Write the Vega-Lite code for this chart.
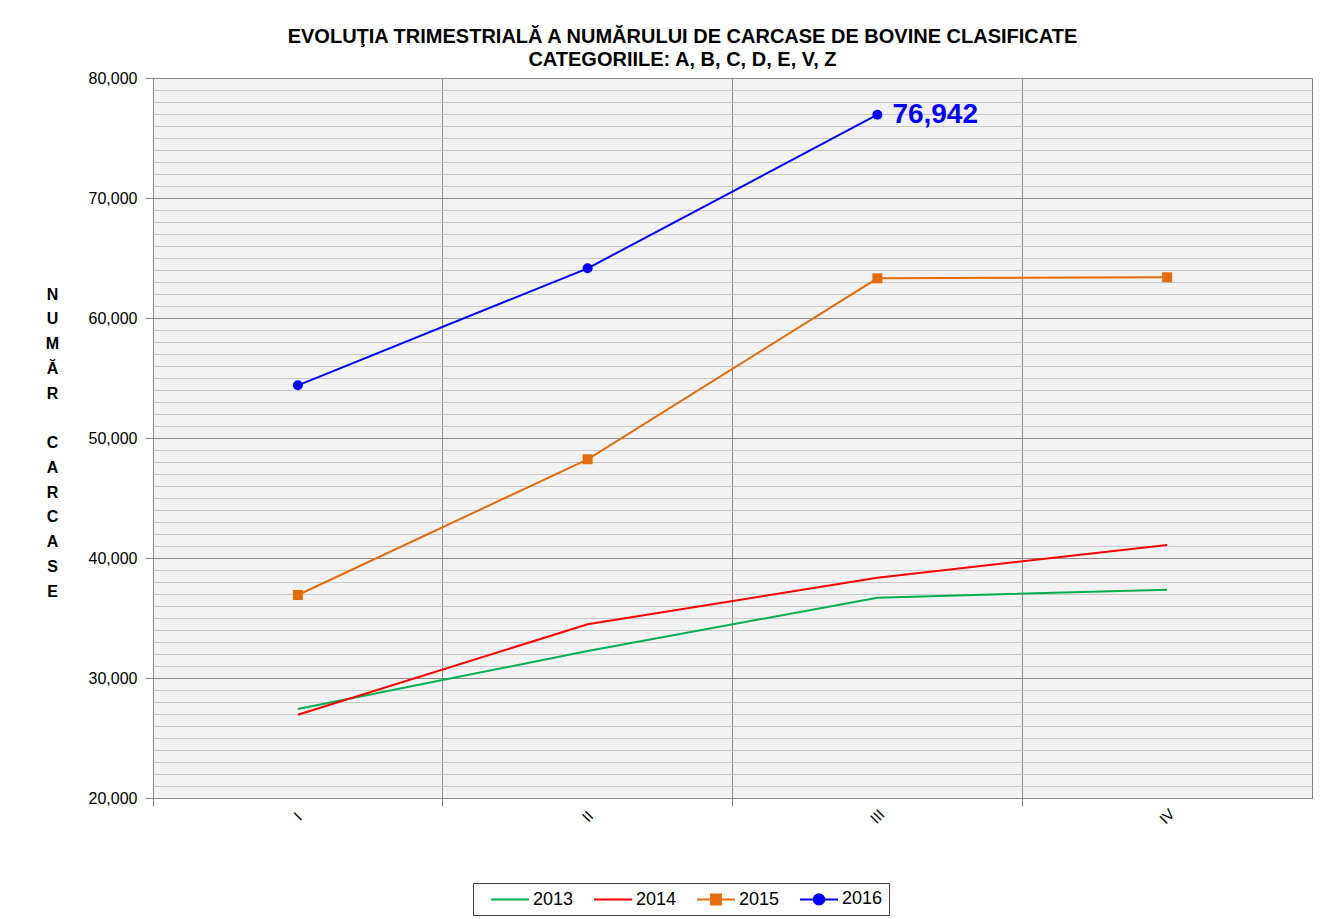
{
  "$schema": "https://vega.github.io/schema/vega-lite/v6.json",
  "width": 1159,
  "height": 720,
  "autosize": {"type": "none"},
  "padding": {"left": 153, "top": 78, "right": 30, "bottom": 121},
  "background": "white",
  "title": {
    "text": ["EVOLUŢIA TRIMESTRIALĂ A NUMĂRULUI DE  CARCASE DE BOVINE CLASIFICATE", "CATEGORIILE: A, B, C, D, E, V, Z"],
    "anchor": "middle",
    "frame": "group",
    "dx": -50,
    "offset": 0,
    "fontSize": 20,
    "fontWeight": "bold",
    "font": "Liberation Sans",
    "lineHeight": 23,
    "color": "black"
  },
  "config": {
    "view": {"stroke": "#808080", "fill": "#f2f2f2"},
    "font": "Liberation Sans"
  },
  "data": {
    "values": [
      {"quarter": "I", "year": "2013", "value": 27417},
      {"quarter": "II", "year": "2013", "value": 32250},
      {"quarter": "III", "year": "2013", "value": 36692},
      {"quarter": "IV", "year": "2013", "value": 37358},
      {"quarter": "I", "year": "2014", "value": 26942},
      {"quarter": "II", "year": "2014", "value": 34475},
      {"quarter": "III", "year": "2014", "value": 38358},
      {"quarter": "IV", "year": "2014", "value": 41083},
      {"quarter": "I", "year": "2015", "value": 36917},
      {"quarter": "II", "year": "2015", "value": 48225},
      {"quarter": "III", "year": "2015", "value": 63308},
      {"quarter": "IV", "year": "2015", "value": 63392},
      {"quarter": "I", "year": "2016", "value": 54390},
      {"quarter": "II", "year": "2016", "value": 64140},
      {"quarter": "III", "year": "2016", "value": 76942}
    ]
  },
  "encoding": {
    "x": {
      "field": "quarter",
      "type": "ordinal",
      "sort": ["I", "II", "III", "IV"],
      "scale": {"type": "band", "paddingInner": 0, "paddingOuter": 0},
      "axis": {
        "title": null,
        "labelAngle": -45,
        "labelAlign": "center",
        "labelBaseline": "middle",
        "labelPadding": 10,
        "labelFontSize": 15,
        "labelColor": "black",
        "labelFont": "Liberation Sans",
        "bandPosition": 0,
        "grid": true,
        "gridColor": "#8c8c8c",
        "ticks": true,
        "tickSize": 8,
        "tickColor": "#808080",
        "domain": false
      }
    },
    "y": {
      "field": "value",
      "type": "quantitative",
      "scale": {"domain": [20000, 80000], "nice": false, "zero": false},
      "axis": {
        "title": ["N", "U", "M", "Ă", "R", "\u200b", "C", "A", "R", "C", "A", "S", "E"],
        "titleAngle": 0,
        "titleX": -101,
        "titleY": 208,
        "titleAlign": "center",
        "titleBaseline": "top",
        "titleLineHeight": 24.75,
        "titleFontSize": 16,
        "titleFontWeight": "bold",
        "titleFont": "Liberation Sans",
        "titleColor": "black",
        "values": [20000, 21000, 22000, 23000, 24000, 25000, 26000, 27000, 28000, 29000, 30000, 31000, 32000, 33000, 34000, 35000, 36000, 37000, 38000, 39000, 40000, 41000, 42000, 43000, 44000, 45000, 46000, 47000, 48000, 49000, 50000, 51000, 52000, 53000, 54000, 55000, 56000, 57000, 58000, 59000, 60000, 61000, 62000, 63000, 64000, 65000, 66000, 67000, 68000, 69000, 70000, 71000, 72000, 73000, 74000, 75000, 76000, 77000, 78000, 79000, 80000],
        "labelExpr": "datum.value % 10000 === 0 ? format(datum.value, ',') : ''",
        "labelOverlap": false,
        "labelFlush": false,
        "labelFontSize": 16,
        "labelColor": "black",
        "labelFont": "Liberation Sans",
        "labelPadding": 8,
        "tickSize": 8,
        "tickColor": "#808080",
        "tickOpacity": {"condition": {"test": "datum.value % 10000 === 0", "value": 1}, "value": 0},
        "grid": true,
        "gridColor": {"condition": {"test": "datum.value % 10000 === 0", "value": "#8c8c8c"}, "value": "#c8c8c8"},
        "domain": false
      }
    },
    "color": {
      "field": "year",
      "type": "nominal",
      "scale": {"domain": ["2013", "2014", "2015", "2016"], "range": ["#00b050", "#ff0000", "#e46c0a", "#0000ff"]},
      "legend": {
        "title": null,
        "orient": "none",
        "legendX": 320,
        "legendY": 805,
        "direction": "horizontal",
        "strokeColor": "#404040",
        "fillColor": "white",
        "padding": 6,
        "labelFontSize": 18,
        "labelFont": "Liberation Sans",
        "labelColor": "black",
        "symbolSize": 324,
        "symbolStrokeWidth": 2,
        "symbolOffset": 21,
        "labelOffset": 13,
        "columnPadding": 8,
        "encode": {
          "symbols": {
            "update": {
              "shape": {"signal": "datum.value == '2015' ? 'M-2.11,0H2.11M-0.55,-0.55H0.55V0.55H-0.55Z' : datum.value == '2016' ? 'M-2.11,0H2.11M0.58,0A0.58,0.58,0,1,1,-0.58,0A0.58,0.58,0,1,1,0.58,0Z' : 'M-2.11,0H2.11'"},
              "fill": {"signal": "scale('color', datum.value)"},
              "stroke": {"signal": "scale('color', datum.value)"},
              "opacity": {"value": 1}
            }
          }
        }
      }
    }
  },
  "layer": [
    {"mark": {"type": "line", "strokeWidth": 2}},
    {
      "transform": [{"filter": "datum.year == '2015' || datum.year == '2016'"}],
      "mark": {"type": "point", "filled": true, "opacity": 1, "size": 100},
      "encoding": {
        "shape": {"field": "year", "type": "nominal", "scale": {"domain": ["2015", "2016"], "range": ["square", "circle"]}, "legend": null}
      }
    },
    {
      "transform": [{"filter": "datum.year == '2016' && datum.quarter == 'III'"}],
      "mark": {"type": "text", "align": "left", "dx": 15, "fontSize": 28, "fontWeight": "bold", "baseline": "middle", "font": "Liberation Sans"},
      "encoding": {"text": {"field": "value", "type": "quantitative", "format": ","}}
    }
  ]
}
